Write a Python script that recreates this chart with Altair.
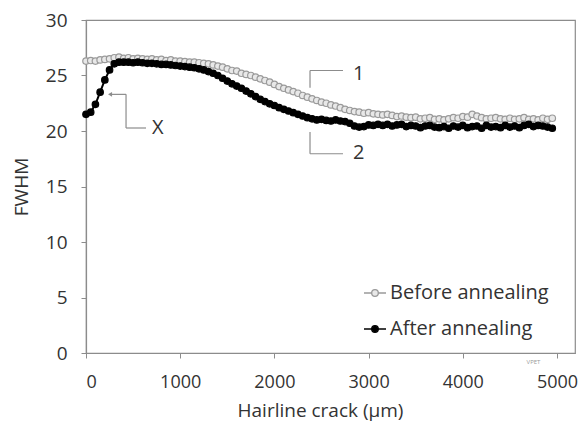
import altair as alt
import pandas as pd

# ---- data ----
x_um = [0, 50, 100, 150, 200, 250, 300, 350, 400, 450,
        500, 550, 600, 650, 700, 750, 800, 850, 900, 950,
        1000, 1050, 1100, 1150, 1200, 1250, 1300, 1350, 1400, 1450,
        1500, 1550, 1600, 1650, 1700, 1750, 1800, 1850, 1900, 1950,
        2000, 2050, 2100, 2150, 2200, 2250, 2300, 2350, 2400, 2450,
        2500, 2550, 2600, 2650, 2700, 2750, 2800, 2850, 2900, 2950,
        3000, 3050, 3100, 3150, 3200, 3250, 3300, 3350, 3400, 3450,
        3500, 3550, 3600, 3650, 3700, 3750, 3800, 3850, 3900, 3950,
        4000, 4050, 4100, 4150, 4200, 4250, 4300, 4350, 4400, 4450,
        4500, 4550, 4600, 4650, 4700, 4750, 4800, 4850, 4900, 4950]

before_annealing = [26.3, 26.35, 26.3, 26.4, 26.45, 26.5, 26.6, 26.65, 26.55, 26.6,
                    26.5, 26.55, 26.5, 26.45, 26.5, 26.4, 26.45, 26.35, 26.4, 26.3,
                    26.3, 26.25, 26.2, 26.2, 26.15, 26.1, 26.05, 25.95, 25.85, 25.75,
                    25.6, 25.45, 25.4, 25.2, 25.1, 25.0, 24.85, 24.7, 24.55, 24.4,
                    24.2, 24.0, 23.85, 23.7, 23.55, 23.4, 23.2, 23.05, 22.9, 22.75,
                    22.6, 22.5, 22.35, 22.25, 22.1, 21.95, 21.85, 21.75, 21.7, 21.6,
                    21.65, 21.55, 21.5, 21.45, 21.5, 21.4, 21.3, 21.35, 21.25, 21.2,
                    21.25, 21.1, 21.15, 21.2, 21.05, 21.1, 21.0, 21.1, 21.2, 21.15,
                    21.3, 21.25, 21.5, 21.35, 21.2, 21.1, 21.15, 21.2, 21.1, 21.05,
                    21.15, 21.05, 21.1, 21.2, 21.05, 21.1, 21.0, 21.15, 21.05, 21.15]

after_annealing = [21.5, 21.7, 22.4, 23.5, 24.6, 25.5, 26.05, 26.2, 26.2, 26.2,
                   26.15, 26.2, 26.15, 26.1, 26.1, 26.05, 26.0, 26.0, 25.95, 25.9,
                   25.85, 25.8, 25.75, 25.7, 25.6, 25.5, 25.35, 25.2, 25.0, 24.75,
                   24.5, 24.25, 24.05, 23.85, 23.6, 23.35, 23.1, 22.85, 22.65, 22.45,
                   22.3, 22.1, 21.95, 21.8, 21.65, 21.5, 21.35, 21.2, 21.1, 21.0,
                   21.05, 20.95, 20.9, 21.0, 20.9, 20.85, 20.7, 20.45, 20.35, 20.4,
                   20.55, 20.5, 20.6, 20.5, 20.6, 20.45, 20.55, 20.6, 20.4, 20.5,
                   20.45, 20.3, 20.45, 20.5, 20.35, 20.3, 20.4, 20.25, 20.45, 20.35,
                   20.5, 20.3, 20.4, 20.45, 20.25, 20.5, 20.35, 20.4, 20.3, 20.5,
                   20.35, 20.45, 20.3, 20.5, 20.6, 20.4, 20.5, 20.45, 20.35, 20.25]

series_names = ["Before annealing", "After annealing"]
x_ticks = [0, 1000, 2000, 3000, 4000, 5000]
y_ticks = [0, 5, 10, 15, 20, 25, 30]

# annotation brackets (data coordinates)
seg_x = [2378, 2378, 2378, 2378, 255, 425, 425]
seg_y = [23.9, 25.45, 19.9, 17.95, 23.3, 23.3, 20.27]
seg_x2 = [2378, 2728, 2378, 2728, 425, 425, 637]
seg_y2 = [25.45, 25.45, 17.95, 17.95, 23.3, 20.27, 20.27]
label_text = ["1", "2", "X"]
label_x = [2835, 2835, 700]
label_y = [25.15, 18.05, 20.25]

# ---- tables ----
df = pd.DataFrame({
    "x": x_um * 2,
    "y": before_annealing + after_annealing,
    "series": [series_names[0]] * len(x_um) + [series_names[1]] * len(x_um),
    "order": [0] * len(x_um) + [1] * len(x_um),
})
seg_df = pd.DataFrame({"x": seg_x, "y": seg_y, "x2": seg_x2, "y2": seg_y2})
lab_df = pd.DataFrame({"t": label_text, "x": label_x, "y": label_y})
arrow_df = pd.DataFrame({"x": [seg_x[4]], "y": [seg_y[4]]})
mark_df = pd.DataFrame({"t": ["VPET"], "x": [4750], "y": [-0.85]})

FONT = "Open Sans"
TXT = "#333333"
GRAY = "#8c8c8c"

xscale = alt.Scale(domain=[0, 5191], nice=False, zero=False)
yscale = alt.Scale(domain=[0, 30], nice=False)

path = "M-1,0H-0.3M0.3,0H1M-0.3,0A0.3,0.3 0 1,0 0.3,0A0.3,0.3 0 1,0 -0.3,0Z"
leg = alt.Legend(title=None, orient="none", legendX=277, legendY=261,
                 symbolType=path, symbolSize=484, symbolStrokeWidth=1.3,
                 labelFontSize=20, labelFont=FONT, labelColor=TXT,
                 rowPadding=14, labelOffset=3, labelLimit=300)

stroke_enc = alt.Stroke("series:N", scale=alt.Scale(domain=series_names, range=["#9a9a9a", "#000000"]), legend=leg)
fill_enc = alt.Fill("series:N", scale=alt.Scale(domain=series_names, range=["#e8e8e8", "#000000"]), legend=leg)

x_enc = alt.X("x:Q", scale=xscale,
              axis=alt.Axis(title="Hairline crack (\u00b5m)", values=x_ticks, format="d",
                            titleX=234, titlePadding=10, labelPadding=15))
y_enc = alt.Y("y:Q", scale=yscale,
              axis=alt.Axis(title="FWHM", values=y_ticks, titlePadding=14, labelPadding=14))

lines = alt.Chart(df).mark_line(strokeWidth=2).encode(
    x=x_enc, y=y_enc, stroke=stroke_enc, detail="series:N", order="order:Q"
)
points = alt.Chart(df).mark_point(filled=True, size=42, strokeWidth=1.2, opacity=1).encode(
    x="x:Q", y="y:Q", stroke=stroke_enc, fill=fill_enc, order="order:Q"
)

segs = alt.Chart(seg_df).mark_rule(color=GRAY, strokeWidth=1.2).encode(
    x="x:Q", y="y:Q", x2="x2:Q", y2="y2:Q"
)
arrow = alt.Chart(arrow_df).mark_point(shape="triangle-left", filled=True, size=22, color=GRAY, opacity=1).encode(
    x="x:Q", y="y:Q"
)
labels = alt.Chart(lab_df).mark_text(font=FONT, fontSize=20, color=TXT, align="left", baseline="middle").encode(
    x="x:Q", y="y:Q", text="t:N"
)
wm = alt.Chart(mark_df).mark_text(font=FONT, fontSize=6, color="#999999", align="center", baseline="middle", clip=False).encode(
    x="x:Q", y="y:Q", text="t:N"
)

chart = alt.layer(lines, points, segs, arrow, labels, wm).properties(
    width=489, height=333,
    autosize=alt.AutoSizeParams(type="none"),
    padding={"left": 78, "top": 12, "right": 3, "bottom": 69},
).configure_view(
    stroke=GRAY, strokeWidth=1.2
).configure_axis(
    grid=False, domainColor=GRAY, tickColor=GRAY, tickSize=5, domainWidth=1.2,
    labelFont=FONT, labelFontSize=19, labelColor=TXT,
    titleFont=FONT, titleFontSize=19, titleColor=TXT, titleFontWeight="normal",
).configure_axisX(labelFontSize=18)

chart.save("out.html", embed_options={"renderer": "svg", "actions": False})
